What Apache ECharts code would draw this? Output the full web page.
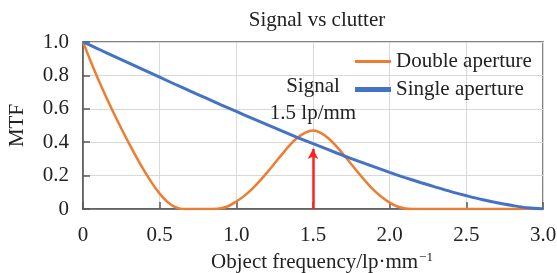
<!DOCTYPE html>
<html>
<head>
<meta charset="utf-8">
<title>Signal vs clutter</title>
<script src="https://cdn.jsdelivr.net/npm/echarts@6/dist/echarts.min.js"></script>
<style>
  html, body { margin: 0; padding: 0; background: #fff; }
  #chart { width: 557px; height: 273px; }
</style>
</head>
<body>
<div id="chart"></div>
<script>
// values
var freqSingle = [0, 0.1, 0.2, 0.3, 0.4, 0.5, 0.6, 0.7, 0.8, 0.9, 1.0,
  1.1, 1.2, 1.3, 1.4, 1.5, 1.6, 1.7, 1.8, 1.9, 2.0,
  2.1, 2.2, 2.3, 2.4, 2.5, 2.6, 2.7, 2.8, 2.9, 3.0];
var mtfSingle = [1, 0.958, 0.915, 0.873, 0.831, 0.789, 0.747, 0.706, 0.665, 0.624, 0.584,
  0.544, 0.505, 0.466, 0.428, 0.391, 0.355, 0.319, 0.285, 0.252, 0.219,
  0.188, 0.159, 0.131, 0.104, 0.080, 0.057, 0.037, 0.021, 0.007, 0];

var freqDouble = [0, 0.05, 0.1, 0.15, 0.2, 0.25, 0.3, 0.35, 0.4, 0.45, 0.5, 0.55, 0.6, 0.65,
  0.75, 0.85, 0.9, 0.95, 1.0, 1.05, 1.1, 1.15, 1.2, 1.25, 1.3, 1.35, 1.4, 1.45,
  1.5, 1.55, 1.6, 1.65, 1.7, 1.75, 1.8, 1.85, 1.9, 1.95, 2.0, 2.05, 2.1, 2.15,
  2.5, 3.0];
var mtfDouble = [1, 0.885, 0.775, 0.672, 0.575, 0.482, 0.393, 0.308, 0.228, 0.155, 0.092, 0.043, 0.012, 0,
  0, 0, 0.004, 0.018, 0.045, 0.077, 0.117, 0.165, 0.218, 0.274, 0.33, 0.384, 0.428, 0.458,
  0.47, 0.456, 0.424, 0.378, 0.325, 0.268, 0.212, 0.158, 0.11, 0.07, 0.038, 0.015, 0.003, 0,
  0, 0];

var signalFreq = 1.5;
var signalTip = 0.36;

var xTicks = { min: 0, max: 3, step: 0.5 };
var yTicks = { min: 0, max: 1, step: 0.2 };

function zip(xs, ys) {
  return xs.map(function (x, i) { return [x, ys[i]]; });
}

var FONT = 'Liberation Serif';
var FS = 21;
var INK = '#222';
var AXIS = '#595959';
var GRID = '#d9d9d9';
var ORANGE = '#ED7D31';
var BLUE = '#4472C4';

function tickFmt(v) {
  return v === 0 ? '0' : v.toFixed(1);
}

// one legend per entry so each icon can get its own thickness
function legendFor(name, top, thick) {
  return {
    orient: 'vertical',
    left: 350,
    top: top,
    itemWidth: 36,
    itemHeight: thick,
    itemGap: 0,
    icon: 'rect',
    textStyle: { fontFamily: FONT, fontSize: FS, color: INK },
    data: [name]
  };
}

var chart = echarts.init(document.getElementById('chart'), null, { renderer: 'canvas' });

var option = {
  animation: false,
  backgroundColor: '#fff',
  textStyle: { fontFamily: FONT, color: INK },
  title: {
    text: 'Signal vs clutter',
    left: 312,
    top: 5,
    textAlign: 'center',
    textStyle: { fontFamily: FONT, fontSize: FS, fontWeight: 'normal', color: INK }
  },
  grid: {
    left: 83, right: 14, top: 42, bottom: 64,
    containLabel: false,
    outerBoundsMode: 'none',
    show: true,
    borderColor: AXIS,
    borderWidth: 1.5
  },
  legend: [
    legendFor('Double aperture', 46, 3),
    legendFor('Single aperture', 74, 5)
  ],
  xAxis: {
    type: 'value',
    min: xTicks.min,
    max: xTicks.max,
    interval: xTicks.step,
    name: '{a|Object frequency/lp·mm}{s|−1}',
    nameLocation: 'middle',
    nameGap: 41,
    nameTextStyle: {
      rich: {
        a: { fontFamily: FONT, fontSize: FS, color: INK, padding: [0, 0, 0, 18] },
        s: { fontFamily: FONT, fontSize: 13, color: INK, verticalAlign: 'top', padding: [0, 0, 10, 1] }
      }
    },
    axisLine: { show: true, lineStyle: { color: AXIS, width: 1.5 } },
    axisTick: { show: true, inside: true, length: 7, lineStyle: { color: AXIS, width: 1.5 } },
    axisLabel: { fontFamily: FONT, fontSize: FS, color: INK, margin: 16, formatter: tickFmt },
    splitLine: { show: true, lineStyle: { color: GRID, width: 1 } }
  },
  yAxis: {
    type: 'value',
    min: yTicks.min,
    max: yTicks.max,
    interval: yTicks.step,
    name: 'MTF',
    nameLocation: 'middle',
    nameGap: 55,
    nameTextStyle: { fontFamily: FONT, fontSize: FS, color: INK },
    axisLine: { show: true, lineStyle: { color: AXIS, width: 1.5 } },
    axisTick: { show: true, inside: true, length: 7, lineStyle: { color: AXIS, width: 1.5 } },
    axisLabel: { fontFamily: FONT, fontSize: FS, color: INK, margin: 14, formatter: tickFmt },
    splitLine: { show: true, lineStyle: { color: GRID, width: 1 } }
  },
  series: [
    {
      name: 'Double aperture',
      type: 'line',
      data: zip(freqDouble, mtfDouble),
      smooth: 0.3,
      symbol: 'none',
      color: ORANGE,
      lineStyle: { color: ORANGE, width: 2.5 },
      z: 2
    },
    {
      name: 'Single aperture',
      type: 'line',
      data: zip(freqSingle, mtfSingle),
      smooth: 0.3,
      symbol: 'none',
      color: BLUE,
      lineStyle: { color: BLUE, width: 3 },
      z: 3,
      markLine: {
        silent: true,
        symbol: ['none', 'arrow'],
        symbolSize: [8, 10],
        lineStyle: { color: '#ff2020', width: 2.5, type: 'solid' },
        label: {
          show: true,
          position: 'end',
          distance: 22,
          formatter: 'Signal\n1.5 lp/mm',
          fontFamily: FONT,
          fontSize: FS,
          lineHeight: 27,
          color: INK
        },
        data: [
          [{ coord: [signalFreq, 0] }, { coord: [signalFreq, signalTip] }]
        ]
      }
    }
  ]
};

chart.setOption(option);
</script>
</body>
</html>
